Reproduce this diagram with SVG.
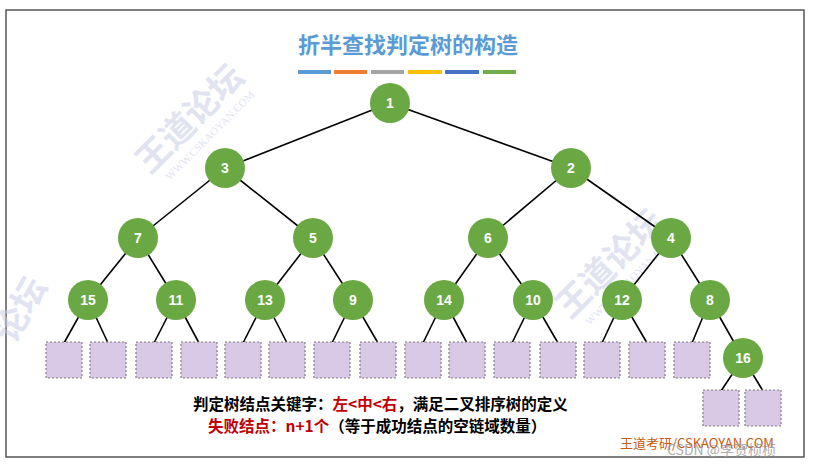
<svg xmlns="http://www.w3.org/2000/svg" width="817" height="469" viewBox="0 0 817 469">
<style>
.n circle{fill:#6aa843}
.n text{fill:#fff;font:bold 14px "Liberation Sans",sans-serif;text-anchor:middle}
.l rect{fill:#d9c9e6;stroke:#7f7f7f;stroke-width:1.2;stroke-dasharray:2 2}
#edges line{stroke:#000;stroke-width:1.6}
.wm{fill:#c9cde6;opacity:.55;font:bold 34px "Noto Sans CJK SC",sans-serif}
.wm2{fill:#c9cde6;opacity:.55;font:11px "Liberation Serif",serif}
</style>
<rect width="817" height="469" fill="#fff"/>
<rect x="6" y="10" width="798" height="447" fill="none" stroke="#555" stroke-width="1.5"/>
<g transform="translate(150,175) rotate(-45)"><text class="wm" x="0" y="0">王道论坛</text><text class="wm2" x="10" y="18">WWW.CSKAOYAN.COM</text></g>
<g transform="translate(570,320) rotate(-45)"><text class="wm" x="0" y="0">王道论坛</text><text class="wm2" x="10" y="18">WWW.CSKAOYAN.COM</text></g>
<g transform="translate(14,345) rotate(-60)"><text class="wm" x="0" y="0">论坛</text></g>
<text x="298" y="53" fill="#5b9bd5" font-family="Noto Sans CJK SC,sans-serif" font-weight="bold" font-size="22">折半查找判定树的构造</text>
<g stroke-width="4">
<line x1="298" y1="72" x2="331" y2="72" stroke="#5b9bd5"/>
<line x1="334" y1="72" x2="367" y2="72" stroke="#ed7d31"/>
<line x1="371" y1="72" x2="404" y2="72" stroke="#a5a5a5"/>
<line x1="408" y1="72" x2="442" y2="72" stroke="#ffc000"/>
<line x1="445" y1="72" x2="479" y2="72" stroke="#4472c4"/>
<line x1="483" y1="72" x2="516" y2="72" stroke="#70ad47"/>
</g>
<g id="edges">
<line x1="390" y1="103" x2="225" y2="168"/><line x1="390" y1="103" x2="571" y2="168"/>
<line x1="225" y1="168" x2="138" y2="238"/><line x1="225" y1="168" x2="313" y2="238"/>
<line x1="571" y1="168" x2="488" y2="238"/><line x1="571" y1="168" x2="671" y2="238"/>
<line x1="138" y1="238" x2="88" y2="300"/><line x1="138" y1="238" x2="176" y2="300"/>
<line x1="313" y1="238" x2="265" y2="300"/><line x1="313" y1="238" x2="353" y2="300"/>
<line x1="488" y1="238" x2="444" y2="300"/><line x1="488" y1="238" x2="533" y2="300"/>
<line x1="671" y1="238" x2="622" y2="300"/><line x1="671" y1="238" x2="710" y2="300"/>
<line x1="88" y1="300" x2="64" y2="343"/><line x1="88" y1="300" x2="108" y2="343"/>
<line x1="176" y1="300" x2="154" y2="343"/><line x1="176" y1="300" x2="199" y2="343"/>
<line x1="265" y1="300" x2="243" y2="343"/><line x1="265" y1="300" x2="287" y2="343"/>
<line x1="353" y1="300" x2="332" y2="343"/><line x1="353" y1="300" x2="378" y2="343"/>
<line x1="444" y1="300" x2="423" y2="343"/><line x1="444" y1="300" x2="467" y2="343"/>
<line x1="533" y1="300" x2="512" y2="343"/><line x1="533" y1="300" x2="558" y2="343"/>
<line x1="622" y1="300" x2="602" y2="343"/><line x1="622" y1="300" x2="647" y2="343"/>
<line x1="710" y1="300" x2="692" y2="343"/><line x1="710" y1="300" x2="743" y2="358"/>
<line x1="743" y1="358" x2="721" y2="391"/><line x1="743" y1="358" x2="763" y2="391"/>
</g>
<g class="l">
<rect id="f1" x="46" y="342" width="36" height="36"/><rect id="f2" x="90" y="342" width="36" height="36"/>
<rect id="f3" x="136" y="342" width="36" height="36"/><rect id="f4" x="181" y="342" width="36" height="36"/>
<rect id="f5" x="225" y="342" width="36" height="36"/><rect id="f6" x="269" y="342" width="36" height="36"/>
<rect id="f7" x="314" y="342" width="36" height="36"/><rect id="f8" x="360" y="342" width="36" height="36"/>
<rect id="f9" x="405" y="342" width="36" height="36"/><rect id="f10" x="449" y="342" width="36" height="36"/>
<rect id="f11" x="494" y="342" width="36" height="36"/><rect id="f12" x="540" y="342" width="36" height="36"/>
<rect id="f13" x="584" y="342" width="36" height="36"/><rect id="f14" x="629" y="342" width="36" height="36"/>
<rect id="f15" x="674" y="342" width="36" height="36"/>
<rect id="f16" x="703" y="390" width="36" height="36"/><rect id="f17" x="745" y="390" width="36" height="36"/>
</g>
<g class="n" id="n1"><circle cx="390" cy="103" r="20"/><text x="390" y="108">1</text></g>
<g class="n" id="n3"><circle cx="225" cy="168" r="20"/><text x="225" y="173">3</text></g>
<g class="n" id="n2"><circle cx="571" cy="168" r="20"/><text x="571" y="173">2</text></g>
<g class="n" id="n7"><circle cx="138" cy="238" r="20"/><text x="138" y="243">7</text></g>
<g class="n" id="n5"><circle cx="313" cy="238" r="20"/><text x="313" y="243">5</text></g>
<g class="n" id="n6"><circle cx="488" cy="238" r="20"/><text x="488" y="243">6</text></g>
<g class="n" id="n4"><circle cx="671" cy="238" r="20"/><text x="671" y="243">4</text></g>
<g class="n" id="n15"><circle cx="88" cy="300" r="20"/><text x="88" y="305">15</text></g>
<g class="n" id="n11"><circle cx="176" cy="300" r="20"/><text x="176" y="305">11</text></g>
<g class="n" id="n13"><circle cx="265" cy="300" r="20"/><text x="265" y="305">13</text></g>
<g class="n" id="n9"><circle cx="353" cy="300" r="20"/><text x="353" y="305">9</text></g>
<g class="n" id="n14"><circle cx="444" cy="300" r="20"/><text x="444" y="305">14</text></g>
<g class="n" id="n10"><circle cx="533" cy="300" r="20"/><text x="533" y="305">10</text></g>
<g class="n" id="n12"><circle cx="622" cy="300" r="20"/><text x="622" y="305">12</text></g>
<g class="n" id="n8"><circle cx="710" cy="300" r="20"/><text x="710" y="305">8</text></g>
<g class="n" id="n16"><circle cx="743" cy="358" r="20"/><text x="743" y="363">16</text></g>
<g font-family="Noto Sans CJK SC,sans-serif" font-weight="bold" font-size="15.5">
<text x="193" y="410" fill="#000">判定树结点关键字：<tspan fill="#c00000">左&lt;中&lt;右</tspan>，满足二叉排序树的定义</text>
<text x="208" y="432" fill="#000"><tspan fill="#c00000">失败结点：n+1个</tspan>（等于成功结点的空链域数量）</text>
</g>
<text x="620" y="448" fill="#c55a11" font-family="Noto Sans CJK SC,sans-serif" font-size="13">王道考研/CSKAOYAN.COM</text>
<text x="667" y="455" fill="#999" opacity=".8" font-family="Noto Sans CJK SC,sans-serif" font-size="14">CSDN @李贺桢桢</text>
</svg>
